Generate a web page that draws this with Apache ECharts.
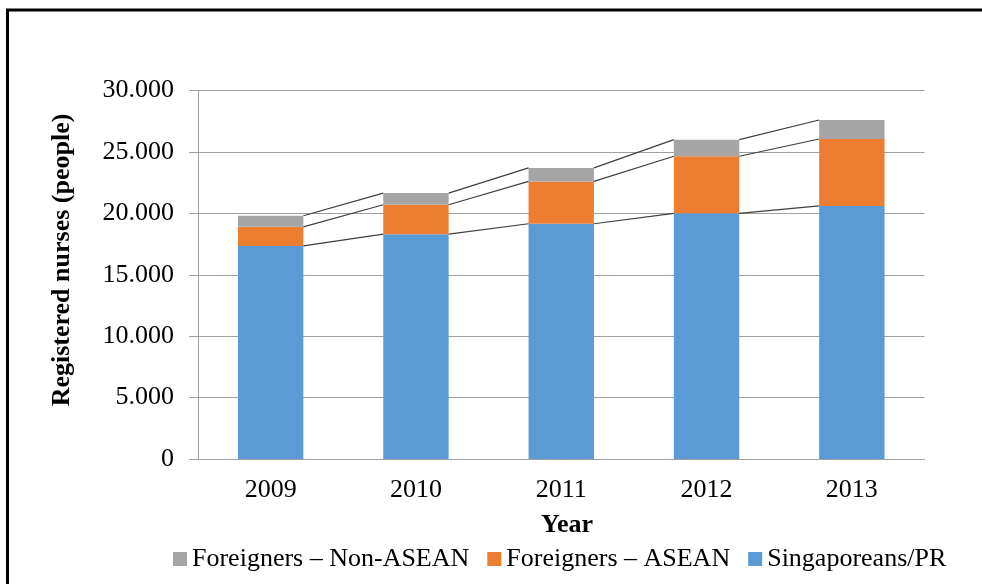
<!DOCTYPE html>
<html>
<head>
<meta charset="utf-8">
<script src="https://cdn.jsdelivr.net/npm/echarts@6/dist/echarts.min.js"></script>
<style>
html,body{margin:0;padding:0;background:#fff;}
#chart{width:982px;height:584px;}
</style>
</head>
<body>
<div id="chart"></div>
<script>
var categories = ['2009', '2010', '2011', '2012', '2013'];
var singaporeansPR = [17350, 18300, 19150, 20000, 20600];
var foreignersASEAN = [1550, 2400, 3450, 4650, 5450];
var foreignersNonASEAN = [900, 950, 1100, 1350, 1550];
var seriesNames = ['Singaporeans/PR', 'Foreigners \u2013 ASEAN', 'Foreigners \u2013 Non-ASEAN'];
var yTicks = { min: 0, max: 30000, interval: 5000 };

var FONT = 'Liberation Serif';
var BAR_RATIO = 0.45;

// cumulative stack tops for the series lines
var topBlue = singaporeansPR.slice();
var topOrange = singaporeansPR.map(function (v, i) { return v + foreignersASEAN[i]; });
var topGrey = topOrange.map(function (v, i) { return v + foreignersNonASEAN[i]; });

function linkData(tops) {
  var d = [];
  for (var i = 0; i < tops.length - 1; i++) d.push([i, tops[i], tops[i + 1]]);
  return d;
}

function seriesLine(tops) {
  return {
    type: 'custom',
    data: linkData(tops),
    encode: { x: 0, y: [1, 2] },
    z: 5,
    silent: true,
    renderItem: function (params, api) {
      var i = api.value(0);
      var p1 = api.coord([i, api.value(1)]);
      var p2 = api.coord([i + 1, api.value(2)]);
      var hw = api.size([1, 0])[0] * BAR_RATIO / 2;
      return {
        type: 'line',
        shape: { x1: p1[0] + hw, y1: p1[1], x2: p2[0] - hw, y2: p2[1] },
        style: { stroke: '#3f3f3f', lineWidth: 1.2 }
      };
    }
  };
}

var chart = echarts.init(document.getElementById('chart'));
chart.setOption({
  animation: false,
  backgroundColor: '#ffffff',
  textStyle: { fontFamily: FONT },
  grid: { left: 198, right: 57.5, top: 90.5, bottom: 125 },
  graphic: [
    { type: 'rect', shape: { x: 7.5, y: 10, width: 1000, height: 600 },
      style: { fill: 'none', stroke: '#000', lineWidth: 3 }, silent: true },
    { type: 'text', x: 62, y: 260, rotation: Math.PI / 2,
      style: { text: 'Registered nurses (people)', fontFamily: FONT, fontSize: 26, fontWeight: 'bold',
               fill: '#000', align: 'center', verticalAlign: 'middle' } },
    { type: 'text', x: 567, y: 525,
      style: { text: 'Year', fontFamily: FONT, fontSize: 26, fontWeight: 'bold',
               fill: '#000', align: 'center', verticalAlign: 'middle' } }
  ],
  legend: {
    left: 168, top: 541,
    itemWidth: 14, itemHeight: 14, itemGap: 18,
    icon: 'rect',
    data: [seriesNames[2], seriesNames[1], seriesNames[0]],
    textStyle: { fontFamily: FONT, fontSize: 26, color: '#000' }
  },
  xAxis: {
    type: 'category',
    data: categories,
    axisLine: { lineStyle: { color: '#a0a0a0', width: 1 } },
    axisTick: { show: false },
    axisLabel: { fontFamily: FONT, fontSize: 26, color: '#000', margin: 18 }
  },
  yAxis: {
    type: 'value',
    min: yTicks.min, max: yTicks.max, interval: yTicks.interval,
    axisLine: { show: true, lineStyle: { color: '#a0a0a0', width: 1 } },
    axisTick: { show: true, length: 9, lineStyle: { color: '#a0a0a0' } },
    splitLine: { lineStyle: { color: '#a0a0a0', width: 1 } },
    axisLabel: {
      fontFamily: FONT, fontSize: 26, color: '#000', margin: 24,
      formatter: function (v) { return String(v).replace(/\B(?=(\d{3})+(?!\d))/g, '.'); }
    }
  },
  series: [
    { name: seriesNames[0], type: 'bar', stack: 'total', data: singaporeansPR,
      barCategoryGap: '55%', itemStyle: { color: '#5B9BD5' } },
    { name: seriesNames[1], type: 'bar', stack: 'total', data: foreignersASEAN,
      barCategoryGap: '55%', itemStyle: { color: '#ED7D31' } },
    { name: seriesNames[2], type: 'bar', stack: 'total', data: foreignersNonASEAN,
      barCategoryGap: '55%', itemStyle: { color: '#A5A5A5' } },
    seriesLine(topBlue),
    seriesLine(topOrange),
    seriesLine(topGrey)
  ]
});
</script>
</body>
</html>
